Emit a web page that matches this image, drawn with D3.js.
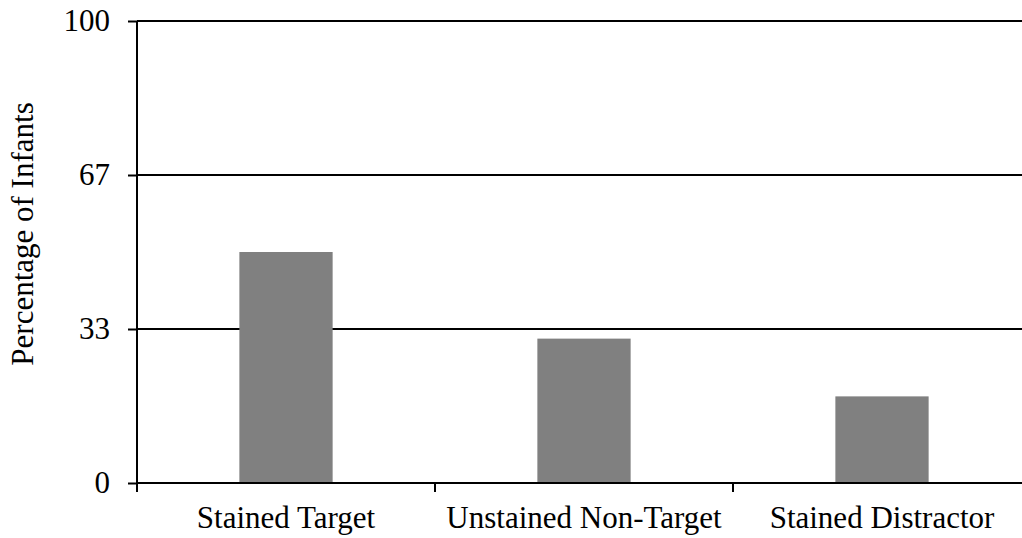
<!DOCTYPE html>
<html>
<head>
<meta charset="utf-8">
<script src="https://cdn.jsdelivr.net/npm/d3@7"></script>
<style>
  html, body { margin: 0; padding: 0; background: #fff; }
  svg { display: block; }
  text { font-family: "Liberation Serif", "Times New Roman", serif; fill: #000; }
</style>
</head>
<body>
<svg id="chart" width="1022" height="538"></svg>
<script>
// Share of infants choosing each object
const categories = ["Stained Target", "Unstained Non-Target", "Stained Distractor"];
const percentages = [50, 31.25, 18.75];
const tickValues = [0, 100 / 3, 200 / 3, 100];
const tickLabels = ["0", "33", "67", "100"];
const yTitle = "Percentage of Infants";

const svg = d3.select("#chart");
const plotLeft = 137, plotRight = 1031, plotTop = 21, plotBottom = 483;

const x = d3.scaleBand().domain(categories).range([plotLeft, plotRight]).padding(0);
const y = d3.scaleLinear().domain([0, 100]).range([plotBottom, plotTop]);

// horizontal gridlines across the plot
svg.append("g")
  .selectAll("line")
  .data(tickValues.filter(v => v > 0))
  .join("line")
  .attr("x1", plotLeft)
  .attr("x2", 1022)
  .attr("y1", d => y(d))
  .attr("y2", d => y(d))
  .attr("stroke", "#000")
  .attr("stroke-width", 2);

// bars
const barW = x.bandwidth() * 0.313;
svg.append("g")
  .selectAll("rect")
  .data(categories)
  .join("rect")
  .attr("x", (d) => x(d) + x.bandwidth() / 2 - barW / 2)
  .attr("width", barW)
  .attr("y", (d, i) => y(percentages[i]))
  .attr("height", (d, i) => y(0) - y(percentages[i]))
  .attr("fill", "#808080");

// y axis
const yAxis = d3.axisLeft(y)
  .tickValues(tickValues)
  .tickFormat((d, i) => tickLabels[i])
  .tickSize(9)
  .tickPadding(18);
const gy = svg.append("g").attr("transform", `translate(${plotLeft},0)`).call(yAxis);
gy.select(".domain").attr("stroke", "#000").attr("stroke-width", 2)
  .attr("d", `M0,${plotBottom}V${plotTop}`);
gy.selectAll(".tick line").attr("stroke", "#000").attr("stroke-width", 2);
gy.selectAll(".tick text")
  .style("font-family", '"Liberation Serif", "Times New Roman", serif')
  .style("font-size", "31px");

// x axis with ticks at category boundaries
svg.append("line")
  .attr("x1", plotLeft).attr("x2", 1022)
  .attr("y1", plotBottom).attr("y2", plotBottom)
  .attr("stroke", "#000").attr("stroke-width", 2);
svg.append("g")
  .selectAll("line")
  .data(categories)
  .join("line")
  .attr("x1", d => x(d)).attr("x2", d => x(d))
  .attr("y1", plotBottom).attr("y2", plotBottom + 9)
  .attr("stroke", "#000").attr("stroke-width", 2);
svg.append("g")
  .selectAll("text")
  .data(categories)
  .join("text")
  .attr("x", d => x(d) + x.bandwidth() / 2)
  .attr("y", 528)
  .attr("text-anchor", "middle")
  .style("font-size", "31px")
  .text(d => d);

// y axis title
svg.append("text")
  .attr("transform", "translate(33,234) rotate(-90)")
  .attr("text-anchor", "middle")
  .style("font-size", "31px")
  .text(yTitle);
</script>
</body>
</html>
